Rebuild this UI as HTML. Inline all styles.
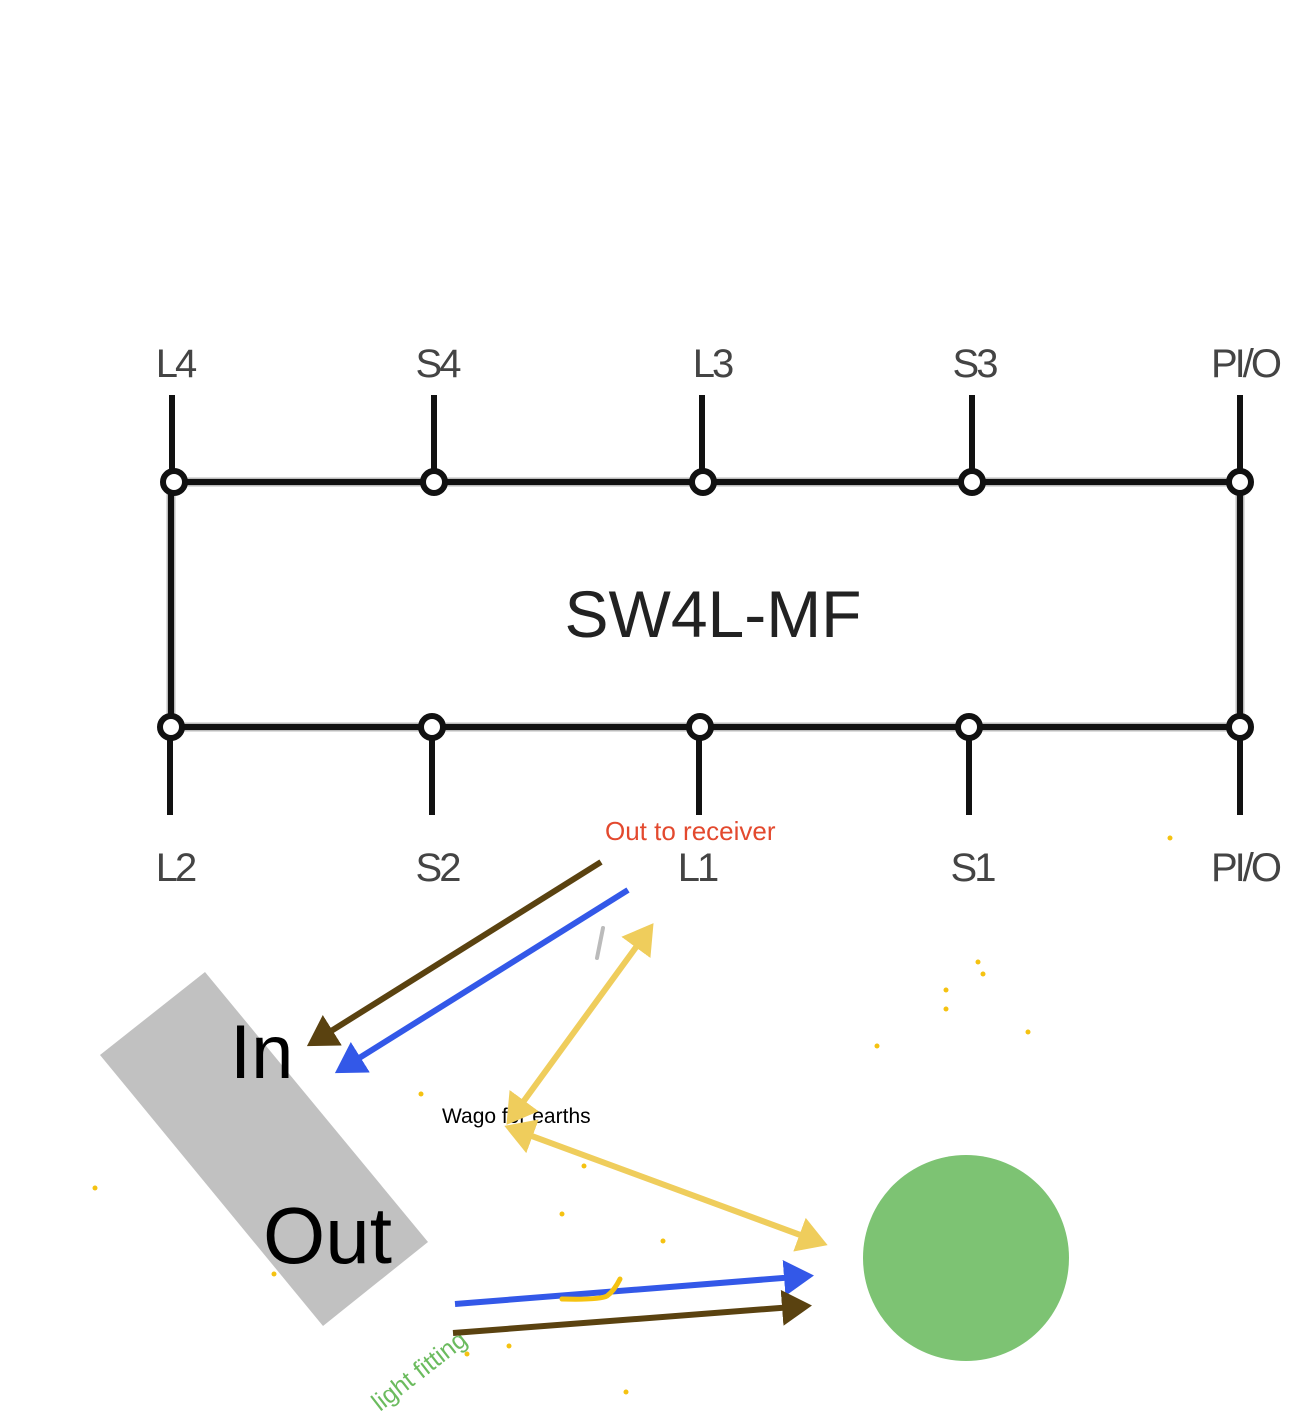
<!DOCTYPE html>
<html><head><style>
html,body{margin:0;padding:0;background:#fff;}
svg{display:block;}
</style></head><body>
<svg width="1290" height="1412" viewBox="0 0 1290 1412" xmlns="http://www.w3.org/2000/svg" font-family="Liberation Sans, sans-serif">
<defs>
<marker id="ab" markerWidth="6" markerHeight="6" refX="4" refY="3" orient="auto" markerUnits="strokeWidth"><path d="M0,0 L5,3 L0,6 z" fill="#5a4210"/></marker>
<marker id="abl" markerWidth="6" markerHeight="6" refX="4" refY="3" orient="auto" markerUnits="strokeWidth"><path d="M0,0 L5,3 L0,6 z" fill="#3358e8"/></marker>
<marker id="ay" markerWidth="6" markerHeight="6" refX="4" refY="3" orient="auto-start-reverse" markerUnits="strokeWidth"><path d="M0,0 L5,3 L0,6 z" fill="#efcd5c"/></marker>
</defs>
<g stroke="#bbb" stroke-width="9" fill="none">
<line x1="172" y1="482" x2="1240" y2="482"/>
<line x1="170" y1="727" x2="1240" y2="727"/>
<line x1="171" y1="482" x2="171" y2="727"/>
<line x1="1240" y1="482" x2="1240" y2="727"/>
</g>
<g stroke="#111" stroke-width="6" fill="none">
<line x1="172" y1="482" x2="1240" y2="482"/>
<line x1="170" y1="727" x2="1240" y2="727"/>
<line x1="171" y1="482" x2="171" y2="727"/>
<line x1="1240" y1="482" x2="1240" y2="727"/>
<line x1="172" y1="395" x2="172" y2="482"/>
<line x1="434" y1="395" x2="434" y2="482"/>
<line x1="702" y1="395" x2="702" y2="482"/>
<line x1="972" y1="395" x2="972" y2="482"/>
<line x1="1240" y1="395" x2="1240" y2="482"/>
<line x1="170" y1="727" x2="170" y2="815"/>
<line x1="432" y1="727" x2="432" y2="815"/>
<line x1="699" y1="727" x2="699" y2="815"/>
<line x1="969" y1="727" x2="969" y2="815"/>
<line x1="1240" y1="727" x2="1240" y2="815"/>
</g>
<g stroke="#111" stroke-width="6" fill="#fff">
<circle cx="174" cy="482" r="11"/><circle cx="434" cy="482" r="11"/><circle cx="703" cy="482" r="11"/><circle cx="972" cy="482" r="11"/><circle cx="1240" cy="482" r="11"/>
<circle cx="171" cy="727" r="11"/><circle cx="432" cy="727" r="11"/><circle cx="700" cy="727" r="11"/><circle cx="969" cy="727" r="11"/><circle cx="1240" cy="727" r="11"/>
</g>
<g fill="#444" font-size="40" text-anchor="middle" letter-spacing="-3">
<text x="175" y="377">L4</text><text x="437" y="377">S4</text><text x="712" y="377">L3</text><text x="974" y="377">S3</text><text x="1245" y="377">PI/O</text>
<text x="175" y="881">L2</text><text x="437" y="881">S2</text><text x="697" y="881">L1</text><text x="972" y="881">S1</text><text x="1245" y="881">PI/O</text>
</g>
<text x="713" y="637" font-size="66" fill="#222" text-anchor="middle">SW4L-MF</text>
<polygon points="100,1055 205,972 428,1242 323,1326" fill="#c1c1c1"/>
<text x="230" y="1078" font-size="76" fill="#000">In</text>
<text x="263" y="1263" font-size="80" fill="#000">Out</text>
<text x="605" y="840" font-size="26" fill="#e3492e">Out to receiver</text>
<text x="442" y="1123" font-size="21" fill="#000">Wago for earths</text>
<text transform="translate(380,1412) rotate(-38)" font-size="25" fill="#6bbb5e">light fitting</text>
<circle cx="966" cy="1258" r="103" fill="#7dc373"/>
<line x1="601" y1="862" x2="312" y2="1043" stroke="#5a4210" stroke-width="6" marker-end="url(#ab)"/>
<line x1="628" y1="890" x2="340" y2="1070" stroke="#3358e8" stroke-width="6" marker-end="url(#abl)"/>
<line x1="650" y1="928" x2="510" y2="1120" stroke="#efcd5c" stroke-width="6" marker-start="url(#ay)" marker-end="url(#ay)"/>
<line x1="510" y1="1128" x2="822" y2="1243" stroke="#efcd5c" stroke-width="6" marker-start="url(#ay)" marker-end="url(#ay)"/>
<line x1="455" y1="1304" x2="808" y2="1276" stroke="#3358e8" stroke-width="6" marker-end="url(#abl)"/>
<line x1="453" y1="1333" x2="806" y2="1306" stroke="#5a4210" stroke-width="6" marker-end="url(#ab)"/>
<line x1="597" y1="958" x2="603" y2="928" stroke="#bbb" stroke-width="4" stroke-linecap="round"/>
<path d="M562,1299 Q600,1300 607,1296 Q614,1291 620,1279" stroke="#f5c211" stroke-width="5" fill="none" stroke-linecap="round"/>
<g fill="#f5c211">
<circle cx="1170" cy="838" r="2.5"/><circle cx="978" cy="962" r="2.5"/><circle cx="983" cy="974" r="2.5"/><circle cx="946" cy="990" r="2.5"/><circle cx="946" cy="1009" r="2.5"/><circle cx="1028" cy="1032" r="2.5"/><circle cx="877" cy="1046" r="2.5"/><circle cx="421" cy="1094" r="2.5"/><circle cx="584" cy="1166" r="2.5"/><circle cx="95" cy="1188" r="2.5"/><circle cx="562" cy="1214" r="2.5"/><circle cx="663" cy="1241" r="2.5"/><circle cx="274" cy="1274" r="2.5"/><circle cx="467" cy="1354" r="2.5"/><circle cx="509" cy="1346" r="2.5"/><circle cx="626" cy="1392" r="2.5"/>
</g>
</svg>
</body></html>
